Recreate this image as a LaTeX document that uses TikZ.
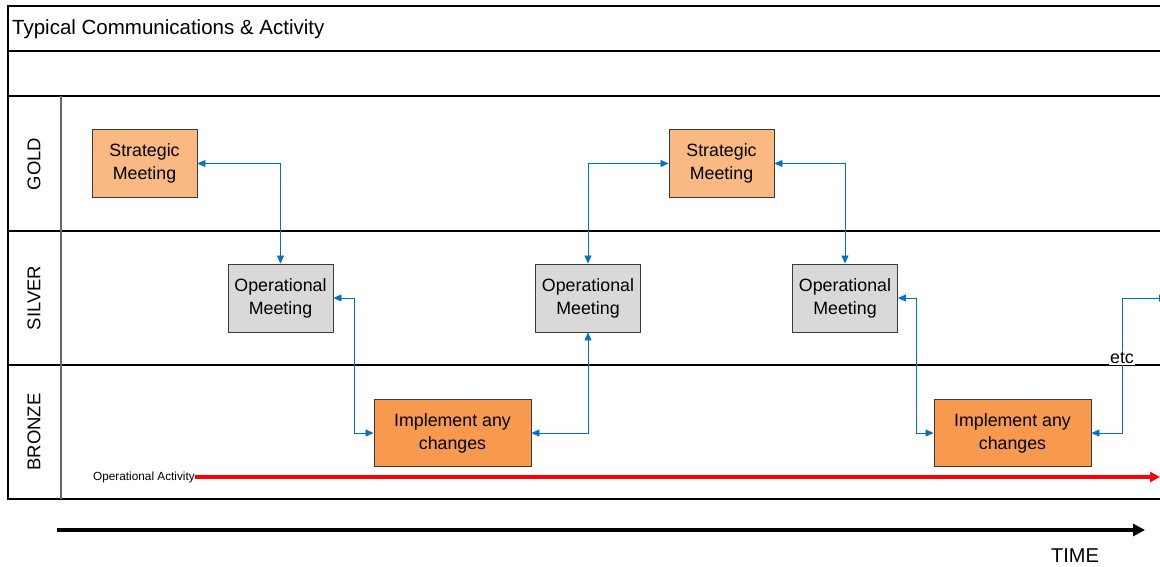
\documentclass[tikz,border=0pt]{standalone}
\usepackage{fontspec}
\setmainfont{Liberation Sans}
\usetikzlibrary{arrows.meta,calc}
\definecolor{stratfill}{HTML}{FAB982}
\definecolor{opfill}{HTML}{D9D9D9}
\definecolor{implfill}{HTML}{F79A50}
\definecolor{connblue}{HTML}{0072C6}
\definecolor{boxline}{HTML}{3A3A3A}
\tikzset{
  meetbox/.style={draw=boxline, line width=0.9pt, minimum width=105pt, minimum height=68pt,
    align=center, font=\fontsize{17.8}{23}\selectfont, inner sep=0pt},
  strat/.style={meetbox, fill=stratfill},
  oper/.style={meetbox, fill=opfill},
  impl/.style={meetbox, fill=implfill, minimum width=157pt, minimum height=67pt},
  conn/.style={draw=connblue, line width=0.8pt, {Triangle[length=8pt,width=7pt]}-{Triangle[length=8pt,width=7pt]}},
  frame/.style={draw=black, line width=1.1pt},
  lanelabel/.style={rotate=90, font=\fontsize{18.5}{20}\selectfont, inner sep=0pt},
}
\begin{document}
\begin{tikzpicture}[x=1pt,y=-1pt]
\useasboundingbox (0,0) rectangle (1160,567);
\clip (0,0) rectangle (1160,567);
% frame
\draw[frame] (8,6) rectangle (1170,499);
\draw[frame] (8,51) -- (1170,51);
\draw[frame] (8,96) -- (1170,96);
\draw[frame] (8,231) -- (1170,231);
\draw[frame] (8,365) -- (1170,365);
\draw[draw=gray!80!black, line width=1.1pt] (61,96) -- (61,499);
\node[anchor=west, font=\fontsize{20.5}{24}\selectfont, inner sep=0pt] (title) at (12,29) {Typical Communications \& Activity};
% lane labels
\node[lanelabel] (gold) at (34,164) {GOLD};
\node[lanelabel] (silver) at (34,298) {SILVER};
\node[lanelabel] (bronze) at (34,432) {BRONZE};
% boxes
\node[strat] (s1) at (144.5,163.5) {Strategic\\Meeting};
\node[oper] (o1) at (280.5,298) {Operational\\Meeting};
\node[impl] (i1) at (452.5,433) {Implement any\\changes};
\node[oper] (o2) at (588,298) {Operational\\Meeting};
\node[strat] (s2) at (721.5,163.5) {Strategic\\Meeting};
\node[oper] (o3) at (845,298) {Operational\\Meeting};
\node[impl] (i2) at (1012.5,433) {Implement any\\changes};
\coordinate (etcend) at (1167,298);
% connectors
\draw[conn] (s1.east) -| (o1.north);
\draw[conn] (o1.east) -- ++(21,0) |- (i1.west);
\draw[conn] (i1.east) -| (o2.south);
\draw[conn] (o2.north) |- (s2.west);
\draw[conn] (s2.east) -| (o3.north);
\draw[conn] (o3.east) -- ++(18,0) |- (i2.west);
\draw[conn] (i2.east) -- ++(31,0) |- (etcend);
\node[fill=white, font=\fontsize{17.8}{20}\selectfont, inner sep=1pt] (etc) at (1122,358) {etc};
% operational activity
\node[anchor=east, font=\fontsize{11.8}{13}\selectfont, inner sep=0pt] (opact) at (195,477) {Operational Activity};
\coordinate (opend) at (1160,477);
\draw[red, line width=3.5pt, -{Triangle[length=10pt,width=10pt]}] (opact.east) -- (opend);
% time
\coordinate (tstart) at (57,530);
\coordinate (tend) at (1145,530);
\draw[black, line width=4pt, -{Triangle[length=12pt,width=12pt]}] (tstart) -- (tend);
\node[font=\fontsize{20}{24}\selectfont, inner sep=0pt] (time) at (1075,556) {TIME};
\end{tikzpicture}
\end{document}
